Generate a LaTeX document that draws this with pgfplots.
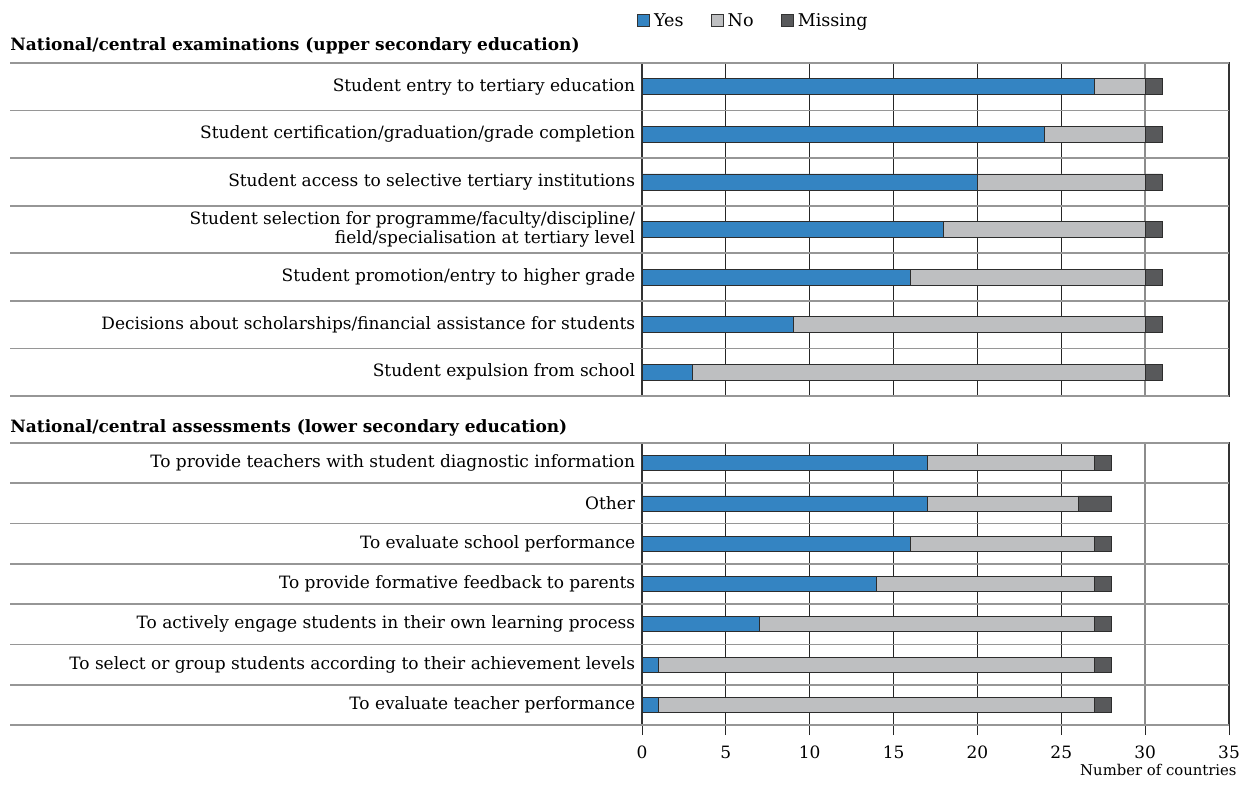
\documentclass[border=0pt]{standalone}
\usepackage{pgfplots}
\pgfplotsset{compat=1.18}
\usepackage{pgfplotstable}
\usepackage{fontspec}
\setmainfont{DejaVu Serif}

\definecolor{yescol}{RGB}{52,132,194}
\definecolor{nocol}{RGB}{190,191,193}
\definecolor{miscol}{RGB}{88,89,91}
\definecolor{edgecol}{RGB}{45,45,45}
\definecolor{sepcol}{RGB}{150,150,150}

% upper secondary examinations
\pgfplotstableread{
pos yes no mis
0 27 3 1
1 24 6 1
2 20 10 1
3 18 12 1
4 16 14 1
5 9 21 1
6 3 27 1
}\examtable

% lower secondary assessments
\pgfplotstableread{
pos yes no mis
0 17 10 1
1 17 9 2
2 16 11 1
3 14 13 1
4 7 20 1
5 1 26 1
6 1 26 1
}\assesstable

\pgfplotsset{
  panel/.style={
    scale only axis, width=10.566cm,
    xbar stacked, xmin=0, xmax=35,
    ymin=-0.5, ymax=6.5, y dir=reverse,
    ytick={0,...,6}, ytick style={draw=none},
    yticklabel style={align=right, font=\fontsize{8.7}{9.6}\selectfont},
    xtick={0,5,10,15,20,25,35}, extra x ticks={30},
    xmajorgrids, major grid style={draw=black!85, line width=0.5pt},
    extra x tick style={major grid style={draw=black!45, line width=1pt}},
    axis line style={draw=black!80, line width=0.6pt},
    every axis plot/.append style={draw=edgecol, line width=0.4pt},
    clip=false,
  },
}

\newcommand{\separators}{%
  \pgfplotsinvokeforeach{-0.5,0.5,1.5,2.5,3.5,4.5,5.5,6.5}{%
    \draw[sepcol, line width=0.9pt] (axis cs:35,##1) -- (axis cs:0,##1) -- ++(-11.376cm,0cm);}%
}

\begin{document}
\begin{tikzpicture}
\begin{axis}[panel, name=top, at={(0,0)}, anchor=north west,
    height=5.994cm, bar width=0.288cm,
    xtick style={draw=none}, xticklabels={}, extra x tick labels={},
    yticklabels={Student entry to tertiary education,
      Student certification/graduation/grade completion,
      Student access to selective tertiary institutions,
      {Student selection for programme/faculty/discipline/\\field/specialisation at tertiary level},
      Student promotion/entry to higher grade,
      Decisions about scholarships/financial assistance for students,
      Student expulsion from school},
    legend style={at={(0,1)}, anchor=south west, xshift=-0.2cm, yshift=0.46cm,
      draw=none, fill=none, font=\fontsize{9}{10}\selectfont,
      /tikz/every even column/.append style={column sep=0.42cm}},
    legend columns=3,
    legend image code/.code={\draw[#1, draw=black!80, line width=0.4pt] (0cm,-0.1cm) rectangle (0.22cm,0.12cm);},
  ]
  \addplot[fill=yescol] table[x=yes, y=pos] {\examtable};
  \addplot[fill=nocol] table[x=no, y=pos] {\examtable};
  \addplot[fill=miscol] table[x=mis, y=pos] {\examtable};
  \legend{Yes, No, Missing}
  \separators
\end{axis}

\begin{axis}[panel, name=bot, at={(0,-6.84cm)}, anchor=north west,
    height=5.076cm, bar width=0.27cm,
    xtick pos=lower, tick align=outside, major tick length=0.18cm,
    xtick style={draw=black!85, line width=0.5pt},
    extra x tick style={tick style={draw=black!45, line width=1pt}},
    xticklabel style={font=\fontsize{8.7}{9.6}\selectfont, yshift=-0.07cm},
    yticklabel style={xshift=0.18cm},
    /pgf/number format/assume math mode=true,
    yticklabels={To provide teachers with student diagnostic information,
      Other,
      To evaluate school performance,
      To provide formative feedback to parents,
      To actively engage students in their own learning process,
      To select or group students according to their achievement levels,
      To evaluate teacher performance},
  ]
  \addplot[fill=yescol] table[x=yes, y=pos] {\assesstable};
  \addplot[fill=nocol] table[x=no, y=pos] {\assesstable};
  \addplot[fill=miscol] table[x=mis, y=pos] {\assesstable};
  \separators
\end{axis}

\node[anchor=west, inner xsep=0pt, font=\bfseries\fontsize{8.7}{9.6}\selectfont]
  at ([xshift=-11.376cm, yshift=0.3cm]top.north west)
  {National/central examinations (upper secondary education)};
\node[anchor=west, inner xsep=0pt, font=\bfseries\fontsize{8.7}{9.6}\selectfont]
  at ([xshift=-11.376cm, yshift=0.27cm]bot.north west)
  {National/central assessments (lower secondary education)};
\node[anchor=north east, font=\fontsize{7.6}{8.6}\selectfont, inner sep=0pt]
  at ([xshift=0.144cm, yshift=-0.7cm]bot.south east) {Number of countries};

\pgfresetboundingbox
\path ([xshift=-11.556cm, yshift=1.134cm]top.north west) rectangle ++(22.446cm,-14.13cm);
\end{tikzpicture}
\end{document}
